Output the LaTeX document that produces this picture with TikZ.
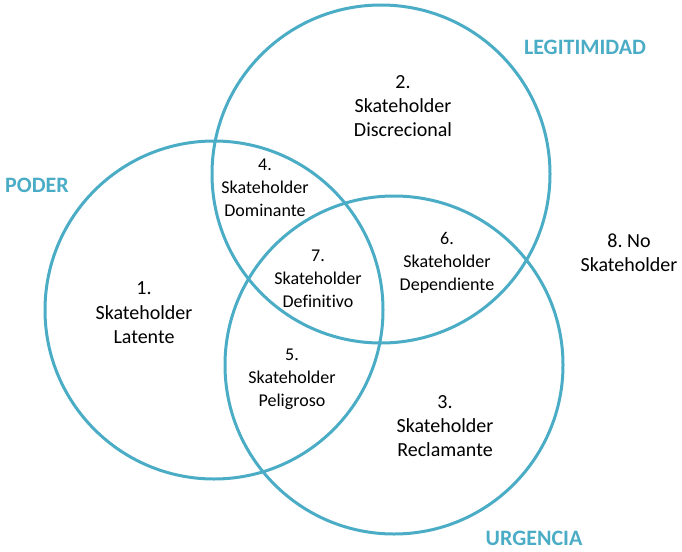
\documentclass[tikz,border=0pt]{standalone}
\usepackage{fontspec}
\setmainfont[Ligatures=NoCommon]{Carlito}
\frenchspacing
\definecolor{venn}{HTML}{4BACC6}

\begin{document}
\begin{tikzpicture}[x = 1pt, y = -1pt,
        set/.style={circle, draw=venn, line width=3pt, minimum size=338pt, inner sep=0pt},
        tag/.style={text=venn, font=\fontsize{22}{26}\selectfont\bfseries},
        big/.style={align=center, font=\fontsize{20}{24.4}\selectfont},
        small/.style={align=center, font=\fontsize{18}{23}\selectfont}
]
    \useasboundingbox (0,0) rectangle (682,551);
    % the three sets
    \node[set] (poder) at (214,310) {};
    \node[set] (legit) at (381,174) {};
    \node[set] (urgen) at (394,365) {};
    % set names
    \node[tag] (tpoder) at (37,185) {PODER};
    \node[tag] (tlegit) at (585,47) {LEGITIMIDAD};
    \node[tag] (turgen) at (534,538) {URGENCIA};
    % regions
    \node[big] (r1) at (144,313) {1.\\Skateholder\\Latente};
    \node[big] (r2) at (403,106) {2.\\Skateholder\\Discrecional};
    \node[big] (r3) at (445,426) {3.\\Skateholder\\Reclamante};
    \node[small] (r4) at (265,188) {4.\\Skateholder\\Dominante};
    \node[small] (r5) at (292,379) {5.\\Skateholder\\Peligroso};
    \node[small] (r6) at (447,263) {6.\\Skateholder\\Dependiente};
    \node[small] (r7) at (318,279) {7.\\Skateholder\\Definitivo};
    \node[big] (r8) at (629,253) {8. No\\Skateholder};
\end{tikzpicture}
\end{document}
